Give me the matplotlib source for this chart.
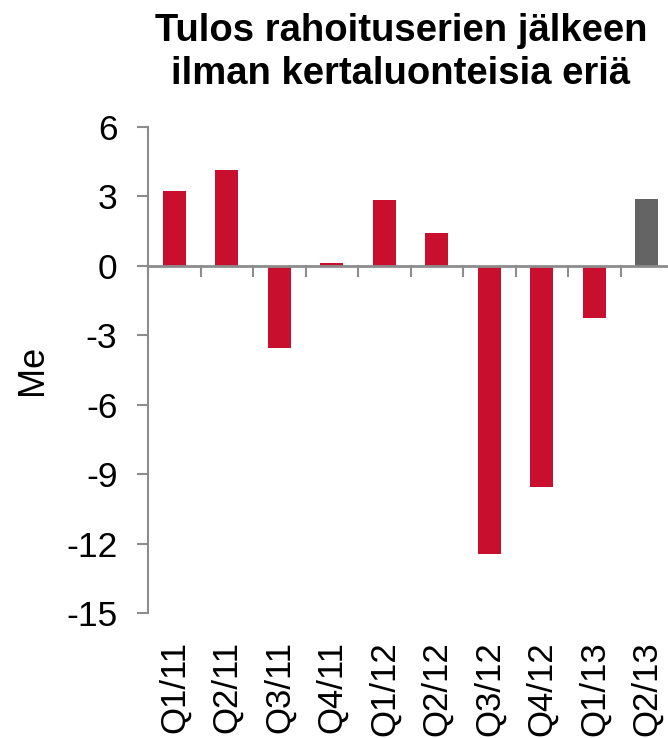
import numpy as np
import matplotlib
matplotlib.use("Agg")
from matplotlib import pyplot as plt

# Data
quarters = ["Q1/11", "Q2/11", "Q3/11", "Q4/11", "Q1/12",
            "Q2/12", "Q3/12", "Q4/12", "Q1/13", "Q2/13"]
result_me = [3.22, 4.12, -3.55, 0.12, 2.84, 1.41, -12.46, -9.56, -2.24, 2.89]
bar_colors = ["#C8102E"] * 9 + ["#646464"]

plt.rcParams["font.family"] = ["Liberation Sans", "DejaVu Sans"]
plt.rcParams["axes.unicode_minus"] = False

fig = plt.figure(figsize=(6.68, 7.38), dpi=100)
ax = fig.add_axes([0.2216, 0.169, 0.786, 0.659])

x = np.arange(len(quarters))
ax.bar(x, result_me, width=0.44, color=bar_colors, zorder=2)

ax.set_xlim(-0.5, len(quarters) - 0.5)
ax.set_ylim(-15, 6)
ax.set_yticks(np.arange(-15, 7, 3))
ax.tick_params(axis="y", labelsize=25.5, length=8, width=1.5,
               color="#8C8C8C", pad=14)

# zero line with ticks between categories
ax.axhline(0, color="#8C8C8C", lw=2, zorder=3)
for k in range(len(quarters)):
    ax.plot([k - 0.5, k - 0.5], [0, -0.45], color="#8C8C8C", lw=1.5,
            zorder=3, clip_on=False)
ax.set_xticks(x)
ax.set_xticklabels(quarters, rotation=90, fontsize=25)
ax.tick_params(axis="x", length=0, pad=20)

for side in ["top", "right", "bottom"]:
    ax.spines[side].set_visible(False)
ax.spines["left"].set_color("#8C8C8C")
ax.spines["left"].set_linewidth(1.5)

ax.set_ylabel("Me", fontsize=26, labelpad=12)

fig.text(0.6, 0.983, "Tulos rahoituserien jälkeen\nilman kertaluonteisia eriä",
         ha="center", va="top", fontsize=27.5, fontweight="bold",
         linespacing=1.28)

plt.savefig("out.png", dpi=100)
